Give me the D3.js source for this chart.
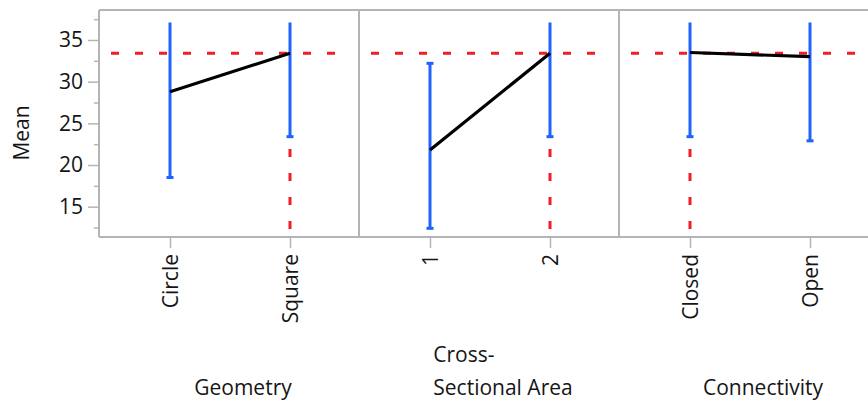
<!DOCTYPE html>
<html>
<head>
<meta charset="utf-8">
<script src="https://cdn.jsdelivr.net/npm/d3@7"></script>
<style>
  html, body { margin: 0; padding: 0; background: #fff; }
  svg { display: block; }
  text { font-family: "Open Sans", "Noto Sans", sans-serif; fill: #151515; }
</style>
</head>
<body>
<svg id="chart" width="868" height="404"></svg>
<script>
// Factor names and their levels
const factors = ["Geometry", "Cross-Sectional Area", "Connectivity"];
const titleLines = [["Geometry"], ["Cross-", "Sectional Area"], ["Connectivity"]];
const levels = [["Circle", "Square"], ["1", "2"], ["Closed", "Open"]];

// Level means and interval ends (upper ends at 37.1 run past the axis limit)
const means = [[28.8, 33.4], [21.8, 33.4], [33.5, 33.0]];
const lower = [[18.5, 23.4], [12.4, 23.4], [23.4, 22.9]];
const upper = [[37.1, 37.1], [32.2, 37.1], [37.1, 37.1]];

// Grand mean reference line
const grandMean = 33.4;
// Level whose interval marks the reference drop line, per factor
const dropLevel = ["Square", "2", "Closed"];

const majorTicks = [15, 20, 25, 30, 35];
const minorTicks = [12.5, 17.5, 22.5, 27.5, 32.5, 37.5];
const axisLimit = 37.0;

(function draw() {
  const svg = d3.select("#chart");
  const pLeft = 99, pTop = 10, pBottom = 237, panelW = 260;
  const frameColor = "#b4b4b4";
  const blue = "#1f63ff", red = "#f01c28";
  const textColor = "#151515";
  const fontSize = "21px";

  const y = d3.scaleLinear().domain([11.36, 38.6]).range([pBottom, pTop]);

  // Y axis: major ticks with labels, unlabeled minor ticks
  const gy = svg.append("g").attr("transform", `translate(${pLeft},0)`)
    .call(d3.axisLeft(y).tickValues(majorTicks).tickSize(11).tickPadding(5));
  gy.select(".domain").remove();
  gy.selectAll(".tick line").attr("stroke", frameColor).attr("stroke-width", 1.5);
  gy.selectAll(".tick text").style("font-size", fontSize)
    .style("font-family", "'Open Sans', sans-serif").attr("fill", textColor);
  const gyMinor = svg.append("g").attr("transform", `translate(${pLeft},0)`)
    .call(d3.axisLeft(y).tickValues(minorTicks).tickSize(5).tickFormat(""));
  gyMinor.select(".domain").remove();
  gyMinor.selectAll(".tick line").attr("stroke", frameColor).attr("stroke-width", 1.5);

  svg.append("text")
    .attr("transform", "translate(22,133) rotate(-90)")
    .attr("text-anchor", "middle")
    .attr("dy", "0.35em")
    .style("font-size", fontSize)
    .text("Mean");

  // Frame: left axis line, top line, bottom axis line
  svg.append("line").attr("x1", pLeft).attr("x2", pLeft).attr("y1", pTop).attr("y2", pBottom)
    .attr("stroke", frameColor).attr("stroke-width", 2);
  svg.append("line").attr("x1", pLeft).attr("x2", 868).attr("y1", pTop).attr("y2", pTop)
    .attr("stroke", frameColor).attr("stroke-width", 2);
  svg.append("line").attr("x1", pLeft).attr("x2", 868).attr("y1", pBottom).attr("y2", pBottom)
    .attr("stroke", frameColor).attr("stroke-width", 2);

  factors.forEach((f, i) => {
    const x0 = pLeft + i * panelW;
    const x = d3.scalePoint().domain(levels[i]).range([x0 + 71, x0 + 191]);
    const g = svg.append("g");

    // Panel separator
    if (i > 0) {
      g.append("line").attr("x1", x0).attr("x2", x0).attr("y1", pTop).attr("y2", pBottom)
        .attr("stroke", frameColor).attr("stroke-width", 2);
    }

    // Category axis
    const gx = g.append("g").attr("transform", `translate(0,${pBottom})`)
      .call(d3.axisBottom(x).tickSize(11).tickPadding(6));
    gx.select(".domain").remove();
    gx.selectAll(".tick line").attr("stroke", frameColor).attr("stroke-width", 1.5);
    gx.selectAll(".tick text")
      .style("font-size", fontSize)
      .style("font-family", "'Open Sans', sans-serif")
      .attr("fill", textColor)
      .attr("text-anchor", "end")
      .attr("transform", "rotate(-90)")
      .attr("x", -17)
      .attr("y", 0)
      .attr("dy", "0.35em");

    // Grand mean reference (horizontal dashed)
    g.append("line")
      .attr("x1", x0 + 12).attr("x2", x0 + panelW - 8)
      .attr("y1", y(grandMean)).attr("y2", y(grandMean))
      .attr("stroke", red).attr("stroke-width", 3)
      .attr("stroke-dasharray", "8,16");

    // Drop line below the reference level's interval
    const dj = levels[i].indexOf(dropLevel[i]);
    g.append("line")
      .attr("x1", x(dropLevel[i])).attr("x2", x(dropLevel[i]))
      .attr("y1", pBottom - 8).attr("y2", y(lower[i][dj]))
      .attr("stroke", red).attr("stroke-width", 3)
      .attr("stroke-dasharray", "8,16");

    // Interval bars
    levels[i].forEach((lv, j) => {
      const cx = x(lv);
      g.append("line")
        .attr("x1", cx).attr("x2", cx)
        .attr("y1", y(lower[i][j])).attr("y2", y(upper[i][j]))
        .attr("stroke", blue).attr("stroke-width", 3);
      g.append("line")
        .attr("x1", cx - 3.5).attr("x2", cx + 3.5)
        .attr("y1", y(lower[i][j])).attr("y2", y(lower[i][j]))
        .attr("stroke", blue).attr("stroke-width", 3);
      if (upper[i][j] < axisLimit) {
        g.append("line")
          .attr("x1", cx - 3.5).attr("x2", cx + 3.5)
          .attr("y1", y(upper[i][j])).attr("y2", y(upper[i][j]))
          .attr("stroke", blue).attr("stroke-width", 3);
      }
    });

    // Mean line connecting levels
    g.append("path")
      .datum(levels[i].map((lv, j) => [x(lv), y(means[i][j])]))
      .attr("d", d3.line())
      .attr("fill", "none")
      .attr("stroke", "#000")
      .attr("stroke-width", 3.2);

    // Factor title below the axis
    const cxTitle = x0 + panelW / 2 + 14;
    if (titleLines[i].length === 1) {
      g.append("text").attr("x", cxTitle).attr("y", 395)
        .attr("text-anchor", "middle").style("font-size", fontSize)
        .text(titleLines[i][0]);
    } else {
      // Two-line title, lines left-aligned to each other
      const t2 = g.append("text").attr("y", 395).style("font-size", fontSize).text(titleLines[i][1]);
      const w = t2.node().getComputedTextLength();
      const lx = cxTitle - w / 2;
      t2.attr("x", lx);
      g.append("text").attr("x", lx).attr("y", 362).style("font-size", fontSize).text(titleLines[i][0]);
    }
  });
})();
</script>
</body>
</html>
